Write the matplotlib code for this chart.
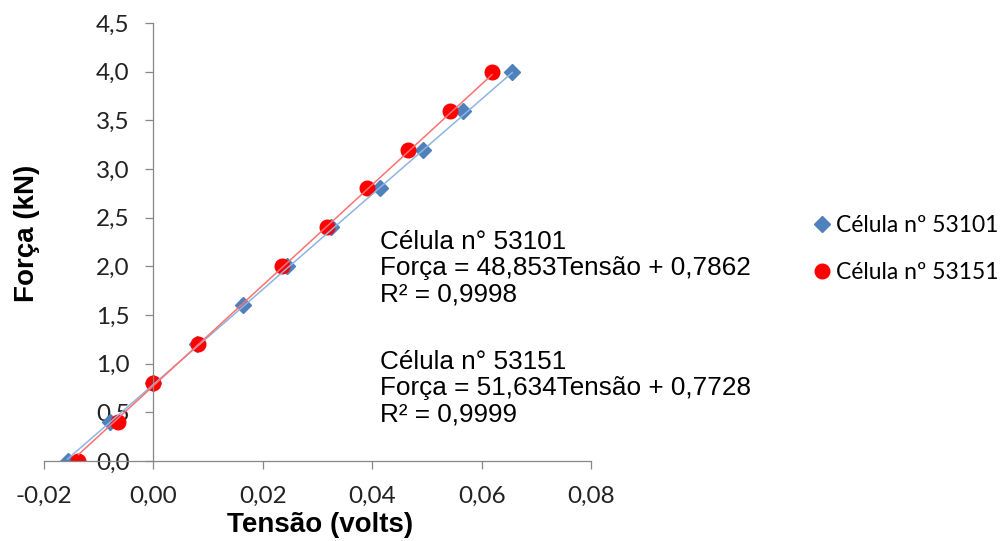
import numpy as np
import matplotlib
matplotlib.use("Agg")
import matplotlib.pyplot as plt
from matplotlib.lines import Line2D

# ---- data ----
forca_53101 = [0.0, 0.4, 0.8, 1.2, 1.6, 2.0, 2.4, 2.8, 3.2, 3.6, 4.0]
tensao_53101 = [-0.0157, -0.0079, 0.0000, 0.0080, 0.0164, 0.0245, 0.0325, 0.0415, 0.0493, 0.0566, 0.0656]
forca_53151 = [0.0, 0.4, 0.8, 1.2, 2.0, 2.4, 2.8, 3.2, 3.6, 4.0]
tensao_53151 = [-0.0137, -0.0064, 0.0000, 0.0081, 0.0236, 0.0318, 0.0391, 0.0466, 0.0542, 0.0619]
coef_53101 = (48.853, 0.7862)
coef_53151 = (51.634, 0.7728)
label_53101 = "Célula nº 53101"
label_53151 = "Célula nº 53151"
eq_text_53101 = "Célula n° 53101\nForça = 48,853Tensão + 0,7862\nR² = 0,9998"
eq_text_53151 = "Célula n° 53151\nForça = 51,634Tensão + 0,7728\nR² = 0,9999"
xticks = [-0.02, 0.00, 0.02, 0.04, 0.06, 0.08]
xtick_labels = ["-0,02", "0,00", "0,02", "0,04", "0,06", "0,08"]
yticks = [0.0, 0.5, 1.0, 1.5, 2.0, 2.5, 3.0, 3.5, 4.0, 4.5]
ytick_labels = ["0,0", "0,5", "1,0", "1,5", "2,0", "2,5", "3,0", "3,5", "4,0", "4,5"]

blue = "#4F81BD"
blue_line = "#8DB4E2"
red = "#FF0000"
red_line = "#FF7070"
axis_col = "#868686"

fig = plt.figure(figsize=(10.04, 5.41), dpi=100)
W, H = 1004, 541
ax = fig.add_axes([44 / W, (H - 461) / H, (591 - 44) / W, (461 - 23) / H])
ax.set_xlim(-0.02, 0.08)
ax.set_ylim(0, 4.5)

# markers
ax.plot(tensao_53101, forca_53101, linestyle="none", marker="D", markersize=8.3,
        color=blue, zorder=2)
ax.plot(tensao_53151, forca_53151, linestyle="none", marker="o", markersize=10.5,
        color=red, zorder=2.5)

# trendlines (from the equations shown)
for xs, (a, b), col in [(tensao_53101, coef_53101, blue_line),
                        (tensao_53151, coef_53151, red_line)]:
    xx = np.array([min(xs), max(xs)])
    ax.plot(xx, a * xx + b, color=col, linewidth=1.1, zorder=3)

# spines through origin
for s in ["top", "right"]:
    ax.spines[s].set_visible(False)
ax.spines["left"].set_position(("data", 0))
ax.spines["bottom"].set_position(("data", 0))
for s in ["left", "bottom"]:
    ax.spines[s].set_color(axis_col)
    ax.spines[s].set_linewidth(0.9)

tick_font = dict(family="Lato", size=17.5)
ax.set_xticks(xticks)
ax.set_xticklabels(xtick_labels, fontdict=tick_font, color="#222222")
ax.set_yticks(yticks)
ax.set_yticklabels(ytick_labels, fontdict=tick_font, color="#222222")
ax.tick_params(axis="x", direction="out", length=6, width=0.9, color=axis_col, pad=12)
ax.tick_params(axis="y", direction="out", length=6, width=0.9, color=axis_col, pad=11)

ax.set_xlabel("Tensão (volts)", family="Liberation Sans", fontsize=20, fontweight="bold",
              va="center")
ax.xaxis.set_label_coords((320 - 44) / 547, (461 - 525) / 438)
ax.set_ylabel("Força (kN)", family="Liberation Sans", fontsize=20, fontweight="bold",
              va="center")
ax.yaxis.set_label_coords((27 - 44) / 547, (461 - 233) / 438)

eq_font = dict(family="Liberation Sans", fontsize=18.8, color="black", linespacing=1.13)
ax.text((380 - 44) / 547, (461 - 268) / 438, eq_text_53101, transform=ax.transAxes,
        ha="left", va="center", **eq_font)
ax.text((380 - 44) / 547, (461 - 388) / 438, eq_text_53151, transform=ax.transAxes,
        ha="left", va="center", **eq_font)

handles = [Line2D([], [], linestyle="none", marker="D", markersize=8.3, color=blue),
           Line2D([], [], linestyle="none", marker="o", markersize=10.5, color=red)]
fig.legend(handles, [label_53101, label_53151], loc="center left",
           bbox_to_anchor=(806 / W, 1 - 249 / H), frameon=False,
           prop=dict(family="Lato", size=16.5), handlelength=0.6, handletextpad=0.3,
           labelspacing=1.15, borderaxespad=0)

fig.savefig("out.png", dpi=100)
